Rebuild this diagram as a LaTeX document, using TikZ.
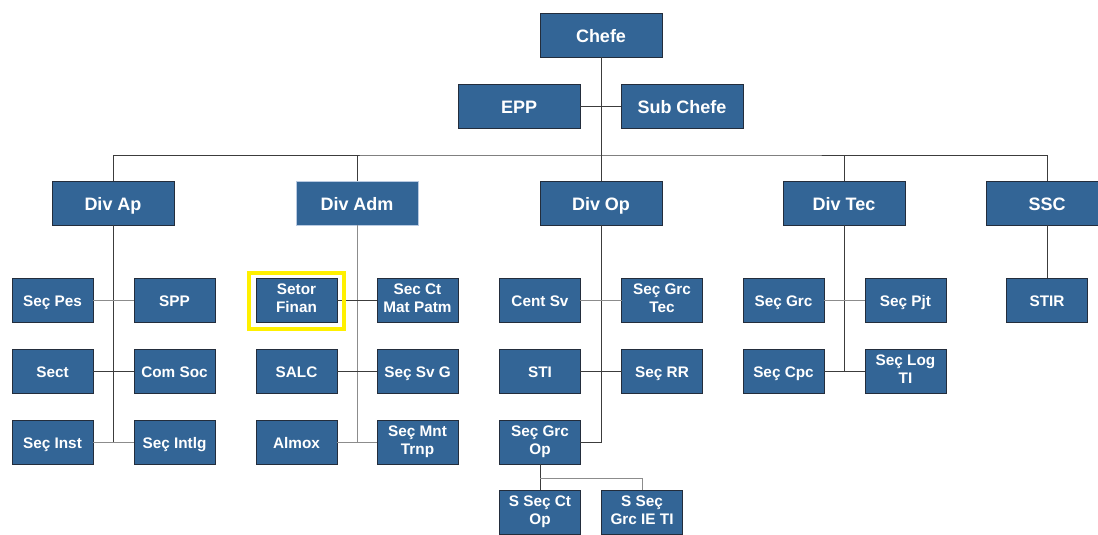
\documentclass[tikz,border=0pt]{standalone}
\usepackage{fontspec}
\setmainfont{Liberation Sans}
\definecolor{boxc}{RGB}{51,101,150}
\definecolor{edgec}{RGB}{35,45,60}
\definecolor{paleedge}{RGB}{185,202,225}
\definecolor{linedk}{RGB}{60,60,60}
\definecolor{linelt}{RGB}{140,140,140}
\definecolor{markc}{RGB}{255,240,0}
% strut that keeps the capitals in the middle of each box
\newcommand\capstrut{\rule[-0.22em]{0pt}{1.236em}}

\begin{document}
\begin{tikzpicture}[x=0.25mm, y=-0.25mm, line cap=rect,
  unit/.style={fill=boxc, draw=edgec, line width=0.5pt, text=white, align=center,
    inner sep=0pt, minimum height=11mm,
    execute at begin node=\capstrut, execute at end node=\capstrut},
  divbox/.style={unit, minimum width=30.5mm, font=\bfseries\fontsize{12.8}{14}\selectfont},
  secbox/.style={unit, minimum width=20.25mm, font=\bfseries\fontsize{10.9}{12.8}\selectfont},
  link/.style={linedk, line width=0.6pt},
  linkl/.style={linelt, line width=0.6pt}]
  \useasboundingbox (0,0) rectangle (1098,534);

  % top of the chart
  \node[divbox] (chefe)    at (601,35.5) {Chefe};
  \node[divbox] (epp)      at (519,106)  {EPP};
  \node[divbox] (subchefe) at (682,106)  {Sub Chefe};

  % divisions
  \node[divbox] (divap)  at (113,203)  {Div Ap};
  \node[divbox, draw=paleedge] (divadm) at (357,203) {Div Adm};
  \node[divbox] (divop)  at (601,203)  {Div Op};
  \node[divbox] (divtec) at (844,203)  {Div Tec};
  \node[divbox] (ssc)    at (1047,203) {SSC};

  % Div Ap sections
  \node[secbox] (secpes)  at (52.5,300)  {Seç Pes};
  \node[secbox] (spp)     at (174.5,300) {SPP};
  \node[secbox] (sect)    at (52.5,371)  {Sect};
  \node[secbox] (comsoc)  at (174.5,371) {Com Soc};
  \node[secbox] (secinst) at (52.5,442)  {Seç Inst};
  \node[secbox] (secintlg) at (174.5,442) {Seç Intlg};

  % Div Adm sections
  \node[secbox] (setor)   at (296.5,300) {Setor\\Finan};
  \node[secbox] (secct)   at (417.5,300) {Sec Ct\\Mat Patm};
  \node[secbox] (salc)    at (296.5,371) {SALC};
  \node[secbox] (secsvg)  at (417.5,371) {Seç Sv G};
  \node[secbox] (almox)   at (296.5,442) {Almox};
  \node[secbox] (secmnt)  at (417.5,442) {Seç Mnt\\Trnp};

  % Div Op sections
  \node[secbox] (centsv)   at (540,300) {Cent Sv};
  \node[secbox] (secgrctec) at (662,300) {Seç Grc\\Tec};
  \node[secbox] (sti)      at (540,371) {STI};
  \node[secbox] (secrr)    at (662,371) {Seç RR};
  \node[secbox] (secgrcop) at (540,442) {Seç Grc\\Op};
  \node[secbox] (ssecct)   at (540,512) {S Seç Ct\\Op};
  \node[secbox] (ssecgrc)  at (642,512) {S Seç\\Grc IE TI};

  % Div Tec sections
  \node[secbox] (secgrc)  at (783.5,300) {Seç Grc};
  \node[secbox] (secpjt)  at (905.5,300) {Seç Pjt};
  \node[secbox] (seccpc)  at (783.5,371) {Seç Cpc};
  \node[secbox] (seclog)  at (905.5,371) {Seç Log\\TI};

  % SSC section
  \node[secbox] (stir) at (1047,300) {STIR};

  % connectors
  \coordinate (bus) at (601,155);
  \draw[link] (chefe) -- (bus);
  \draw[link] (epp) -- (subchefe);
  \draw[link] (divap.north) |- (bus) -- (bus -| ssc.north) -- (ssc.north);
  \foreach \d in {divadm,divop,divtec}
    \draw[link] (\d.north) -- (\d.north |- bus);

  \draw[link] (divap) -- (divap |- secinst);
  \draw[linkl] (secpes) -- (spp);
  \draw[link] (sect) -- (comsoc);
  \draw[linkl] (secinst) -- (secintlg);

  \draw[linkl] (divadm) -- (divadm |- almox);
  \draw[link] (setor) -- (secct);
  \draw[link] (salc) -- (secsvg);
  \draw[linkl] (almox) -- (secmnt);

  \draw[link] (divop) |- (secgrcop);
  \draw[linkl] (centsv) -- (secgrctec);
  \draw[link] (sti) -- (secrr);
  \draw[link] (secgrcop) -- (ssecct);
  \draw[linkl] (secgrcop.south) ++(0,14) -| (ssecgrc);

  \draw[link] (divtec) -- (divtec |- seccpc);
  \draw[linkl] (secgrc) -- (secpjt);
  \draw[link] (seccpc) -- (seclog);

  \draw[link] (ssc) -- (stir);

  % highlight round the finance sector
  \draw[markc, line width=1mm, line cap=butt]
    ([shift={(-7,-5)}]setor.north west) rectangle ([shift={(7,7)}]setor.south east);
\end{tikzpicture}
\end{document}
